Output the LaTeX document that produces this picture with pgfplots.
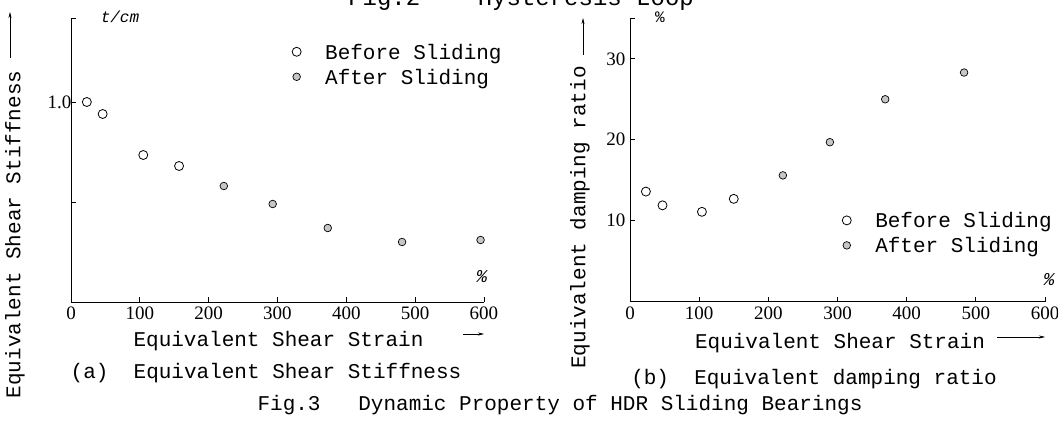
\documentclass[border=0pt]{standalone}
\usepackage{pgfplots}
\pgfplotsset{compat=1.18}
\usepackage{fontspec}
\setmainfont{Liberation Mono}
\newfontfamily\tickfont{Liberation Serif}
\usetikzlibrary{arrows.meta}

\newcommand{\fbig}{\fontsize{21}{25}\selectfont}
\newcommand{\fsmall}{\fontsize{16}{18}\selectfont}

\pgfplotsset{
  hdr/.style={
    scale only axis,
    axis x line=bottom, axis y line=left,
    axis line style={-, line width=0.9pt},
    tick align=inside, major tick length=5pt,
    tick style={black, line width=0.8pt},
    xmin=0, xmax=600, xtick={0,100,...,600},
    ticklabel style={font=\tickfont\fontsize{19}{21}\selectfont},
    xticklabel style={yshift=-1.5pt},
    /pgf/number format/assume math mode=true,
    label style={font=\fbig},
    ylabel style={rotate=0, anchor=center},
    xlabel style={anchor=center},
    legend style={draw=none, fill=none, font=\fbig, inner sep=0pt,
      row sep=0pt, column sep=24pt,
      nodes={inner sep=0pt, text height=20pt, text depth=5pt}},
    legend cell align=left,
  },
  mylegend/.style={legend image code/.code={%
    \draw[mark repeat=2,mark phase=2,##1] plot coordinates {(0pt,0pt)(10pt,0pt)(20pt,0pt)};}},
  before/.style={only marks, mark=o, mark size=4.5pt,
    mark options={draw=black, line width=0.8pt}, mylegend},
  after/.style={only marks, mark=*, mark size=3.8pt,
    mark options={draw=black, fill=gray!45, line width=0.7pt}, mylegend},
}

\begin{document}
\begin{tikzpicture}[x=1pt,y=1pt]
\useasboundingbox (0,0) rectangle (1058,423);

% (a) stiffness
\begin{axis}[hdr,
  at={(71pt,121pt)}, anchor=south west,
  width=413pt, height=284pt,
  ymin=0, ymax=1.42,
  ytick={0.5,1.0,1.42}, yticklabels={,1.0,},
  yticklabel style={xshift=4pt},
  xlabel={Equivalent Shear Strain},
  xlabel style={at={(axis description cs:0.5024,-0.1373)}},
  ylabel={Equivalent Shear Stiffness},
  ylabel style={at={(axis description cs:-0.1356,0.2377)}},
  legend style={at={(rel axis cs:0.535,0.837)}, anchor=west},
]
\addplot[before] coordinates {(23,1.0) (46,0.94) (105,0.735) (157,0.68)};
\addlegendentry{Before Sliding}
\addplot[after] coordinates {(222,0.58) (293,0.49) (373,0.37) (481,0.30) (595,0.31)};
\addlegendentry{After Sliding}
\end{axis}

% (b) damping
\begin{axis}[hdr,
  at={(630pt,121.3pt)}, anchor=south west,
  width=415pt, height=283.4pt,
  ymin=0, ymax=35,
  ytick={10,20,30,35}, yticklabels={10,20,30,},
  yticklabel style={xshift=-1pt},
  xlabel={Equivalent Shear Strain},
  xlabel style={at={(axis description cs:0.506,-0.1457)}},
  ylabel={Equivalent damping ratio},
  ylabel style={at={(axis description cs:-0.1205,0.297)}},
  legend style={at={(rel axis cs:0.511,0.2428)}, anchor=west},
]
\addplot[before] coordinates {(23,13.6) (47,11.9) (104,11.1) (150,12.7)};
\addlegendentry{Before Sliding}
\addplot[after] coordinates {(221,15.6) (289,19.7) (369,25.0) (483,28.3)};
\addlegendentry{After Sliding}
\end{axis}

% label arrows
\draw[line width=0.6pt, -{Stealth[length=6pt,width=3pt]}] (463,89) -- (484,89);
\draw[line width=0.6pt, -{Stealth[length=6pt,width=3pt]}] (997,86) -- (1045,86);
\draw[line width=0.6pt, -{Stealth[length=6pt,width=3pt]}] (10,365) -- (10,411);
\draw[line width=0.6pt, -{Stealth[length=6pt,width=3pt]}] (583,368) -- (583,405);

% units
\node[font=\fsmall\itshape] at (120,406) {t/cm};
\node[font=\fsmall] at (660,406) {\%};
\node[font=\fontsize{18}{20}\selectfont\itshape] at (481.7,146.3) {\%};
\node[font=\fontsize{18}{20}\selectfont\itshape] at (1049,143) {\%};

% captions
\node[font=\fbig] at (266,50) {(a)\ \ Equivalent Shear Stiffness};
\node[font=\fbig] at (814,44) {(b)\ \ Equivalent damping ratio};
\node[font=\fbig] at (560,18) {Fig.3\ \ \ Dynamic Property of HDR Sliding Bearings};
\node[font=\fontsize{24}{26}\selectfont, anchor=base west, inner sep=0pt] at (348,417) {Fig.2\ \ \ \ Hysteresis Loop};
\end{tikzpicture}
\end{document}
